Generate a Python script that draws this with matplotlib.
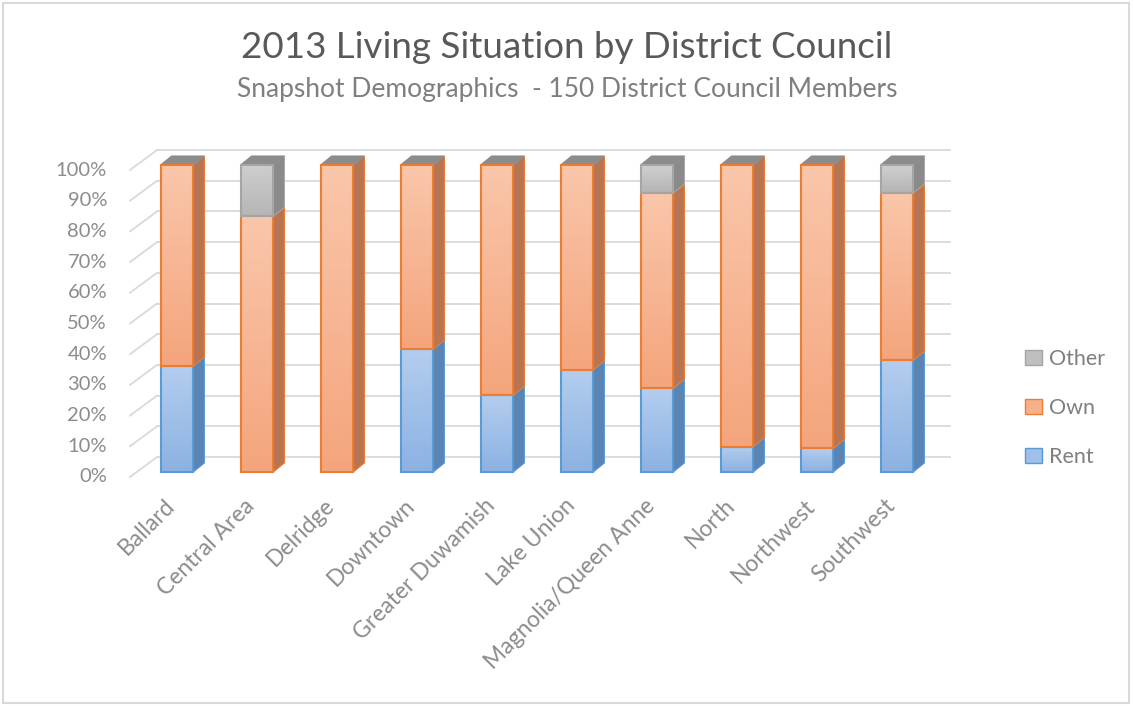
import numpy as np
import matplotlib
matplotlib.use("Agg")
import matplotlib.pyplot as plt
from matplotlib.patches import Rectangle, Polygon, Patch

categories = ["Ballard", "Central Area", "Delridge", "Downtown", "Greater Duwamish",
              "Lake Union", "Magnolia/Queen Anne", "North", "Northwest", "Southwest"]
rent  = [34.5, 0.0,  0.0,   40.0, 25.0, 33.3, 27.3, 8.3,  7.7,  36.4]
own   = [65.5, 83.3, 100.0, 60.0, 75.0, 66.7, 63.6, 91.7, 92.3, 54.5]
other = [0.0,  16.7, 0.0,   0.0,  0.0,  0.0,  9.1,  0.0,  0.0,  9.1]
yticks = [0, 10, 20, 30, 40, 50, 60, 70, 80, 90, 100]

FONT = "Lato"
W, H = 1134, 706
fig = plt.figure(figsize=(W / 100, H / 100), dpi=100)

# axes laid out in pixels; data: bar i centered at 177 + 80*i px, 0..100% -> 472..165 px
PX_X = 1 / 80.0
PX_Y = 100 / 307.0
ax_l, ax_r, ax_t, ax_b = 100, 960, 140, 480
ax = fig.add_axes([ax_l / W, 1 - ax_b / H, (ax_r - ax_l) / W, (ax_b - ax_t) / H])
ax.set_xlim((ax_l - 177) * PX_X, (ax_r - 177) * PX_X)
ax.set_ylim((472 - ax_b) * PX_Y, (472 - ax_t) * PX_Y)
ax.axis("off")

grid_c = "#d9d9d9"
# back wall gridlines + left wall diagonals
for v in yticks:
    yb = v + 15 * PX_Y
    yf = v - 5 * PX_Y
    ax.plot([(157 - 177) * PX_X, (950 - 177) * PX_X], [yb, yb], color=grid_c, lw=1.3, zorder=1)
    ax.plot([(130 - 177) * PX_X, (157 - 177) * PX_X], [yf, yb], color=grid_c, lw=1.3, zorder=1)
    ax.text((107 - 177) * PX_X, yf, f"{v}%", ha="right", va="center",
            fontsize=14.5, color="#8c8c8c", family=FONT)

series = [
    ("Rent",  rent,  ("#b3cdee", "#8cb2e3"), "#5b9bd5", "#5a84b3"),
    ("Own",   own,   ("#fac6aa", "#f4a57d"), "#ed7d31", "#b97451"),
    ("Other", other, ("#cfcfcf", "#b5b5b5"), "#a5a5a5", "#8a8a8a"),
]

bw = 0.41
ddx, ddy = 11 * PX_X, 9 * PX_Y
x = np.arange(len(categories))

def grad_face(x0, y0, w, h, c_top, c_bot, edge):
    rect = Rectangle((x0, y0), w, h, facecolor="none", edgecolor=edge, lw=1.5, zorder=4)
    ax.add_patch(rect)
    c1 = np.array(matplotlib.colors.to_rgb(c_top))
    c2 = np.array(matplotlib.colors.to_rgb(c_bot))
    t = np.linspace(0, 1, 64)[:, None]
    img = (c1 * (1 - t) + c2 * t)[:, None, :]
    im = ax.imshow(img, extent=(x0, x0 + w, y0, y0 + h), origin="upper",
                   aspect="auto", zorder=3, interpolation="bilinear")
    im.set_clip_path(rect)

for i, xi in enumerate(x):
    bottom = 0.0
    x0 = xi - bw / 2
    for name, vals, (ct, cb), edge, side in series:
        h = vals[i]
        if h <= 0:
            continue
        grad_face(x0, bottom, bw, h, ct, cb, edge)
        xr = x0 + bw
        ax.add_patch(Polygon([(xr, bottom), (xr + ddx, bottom + ddy),
                              (xr + ddx, bottom + h + ddy), (xr, bottom + h)],
                             closed=True, facecolor=side, edgecolor=edge, lw=0.8, zorder=3))
        bottom += h
    # top cap
    ax.add_patch(Polygon([(x0, bottom), (x0 + ddx, bottom + ddy),
                          (x0 + bw + ddx, bottom + ddy), (x0 + bw, bottom)],
                         closed=True, facecolor="#8c8c8c", edgecolor="#8c8c8c", lw=0.8, zorder=3))
    ax.text(xi - 13 * PX_X, -23 * PX_Y, categories[i], rotation=45, ha="right", va="top",
            rotation_mode="anchor", fontsize=16.5, color="#8c8c8c", family=FONT)

fig.text(0.5, 1 - 47 / H, "2013 Living Situation by District Council", ha="center", va="center",
         fontsize=26.5, color="#595959", family=FONT)
fig.text(0.5, 1 - 89 / H, "Snapshot Demographics  - 150 District Council Members", ha="center",
         va="center", fontsize=19, color="#7f7f7f", family=FONT)

handles = [Patch(facecolor="#bfbfbf", edgecolor="#a5a5a5", label="Other"),
           Patch(facecolor="#f7b08c", edgecolor="#ed7d31", label="Own"),
           Patch(facecolor="#9ec0ea", edgecolor="#5b9bd5", label="Rent")]
leg = fig.legend(handles=handles, loc="center left", bbox_to_anchor=(1006 / W, 1 - 408 / H),
                 frameon=False, handlelength=0.75, handleheight=0.75, handletextpad=0.35,
                 labelspacing=1.35, prop={"family": FONT, "size": 15.5})
for t in leg.get_texts():
    t.set_color("#7f7f7f")

fig.add_artist(Rectangle((3 / W, 3 / H), (W - 8) / W, (H - 6) / H, transform=fig.transFigure,
                         facecolor="none", edgecolor="#d9d9d9", lw=1.5))

fig.savefig("out.png", dpi=100)
